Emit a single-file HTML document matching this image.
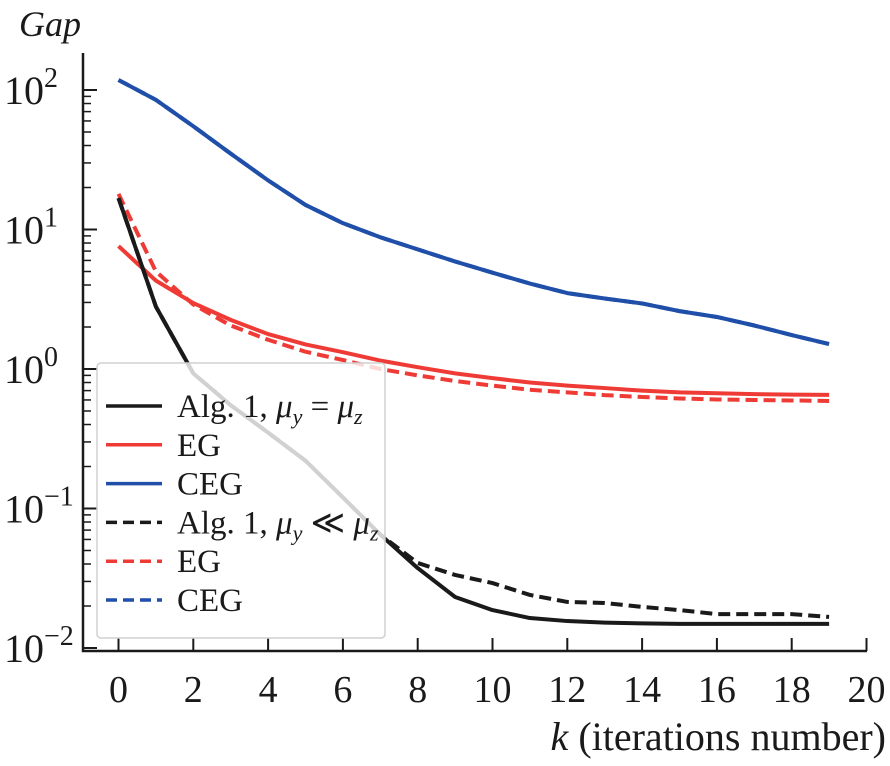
<!DOCTYPE html>
<html><head><meta charset="utf-8"><style>
html,body{margin:0;padding:0;background:#fff;}
svg, svg text{font-family:"Liberation Serif","Times New Roman",serif;}
</style></head><body>
<svg id="chart" width="890" height="761" viewBox="0 0 890 761">
<g id="marks"></g>
<g id="axes"></g>
<g id="legend"></g>
</svg>
<script>
const ks = [0,1,2,3,4,5,6,7,8,9,10,11,12,13,14,15,16,17,18,19];
const algEqual = [16.8,2.8,0.93,0.55,0.35,0.22,0.12,0.065,0.0374,0.0232,0.0187,0.0164,0.0156,0.0152,0.0150,0.0149,0.0149,0.0149,0.0149,0.0149];
const algLess = [16.8,2.8,0.93,0.55,0.35,0.22,0.12,0.065,0.0407,0.0334,0.0292,0.024,0.0214,0.021,0.0197,0.0187,0.0175,0.0175,0.0175,0.0167];
const egSolid = [7.6,4.3,2.97,2.25,1.78,1.5,1.32,1.15,1.03,0.93,0.86,0.8,0.76,0.73,0.7,0.68,0.67,0.66,0.655,0.652];
const egDashed = [18,5,2.9,2.05,1.62,1.33,1.16,1.0,0.9,0.82,0.76,0.71,0.68,0.65,0.63,0.615,0.605,0.6,0.595,0.59];
const cegSolid = [118,85,55,35,22.5,15,11.1,8.8,7.2,5.9,4.9,4.1,3.5,3.2,2.95,2.6,2.36,2.05,1.75,1.51];
const cegDashed = [118,85,55,35,22.5,15,11.1,8.8,7.2,5.9,4.9,4.1,3.5,3.2,2.95,2.6,2.36,2.05,1.75,1.51];
const xTicks = [0,2,4,6,8,10,12,14,16,18,20];
const yExps = [2,1,0,-1,-2];

const NS='http://www.w3.org/2000/svg';
const X0=118.5, XS=37.4, YB=648, DEC=139.5;
const xs=k=>X0+k*XS;
const ys=v=>YB-(Math.log10(v)+2)*DEC;
function mk(tag,attrs,parent){const e=document.createElementNS(NS,tag);for(const a in attrs)e.setAttribute(a,attrs[a]);parent.appendChild(e);return e;}
const marks=document.getElementById('marks'),axes=document.getElementById('axes'),leg=document.getElementById('legend');
const RED='#ef3b36',BLUE='#1f4fa8',BLK='#1a1a1a';
const FF='"Liberation Serif", serif';
const series=[
 {d:cegDashed,c:BLUE,dash:'12,6',n:'ceg-dashed-line'},
 {d:cegSolid,c:BLUE,dash:'',n:'ceg-solid-line'},
 {d:egSolid,c:RED,dash:'',n:'eg-solid-line'},
 {d:egDashed,c:RED,dash:'12,6',n:'eg-dashed-line'},
 {d:algLess,c:BLK,dash:'12,6',n:'alg1-less-line'},
 {d:algEqual,c:BLK,dash:'',n:'alg1-equal-line'}];
series.forEach(s=>{
 const p=mk('polyline',{points:s.d.map((v,i)=>xs(ks[i])+','+ys(v)).join(' '),fill:'none',stroke:s.c,'stroke-width':4,'stroke-dasharray':s.dash,'stroke-linejoin':'round'},marks);
 
 
});
let e=mk('line',{x1:83,y1:53,x2:83,y2:652,stroke:BLK,'stroke-width':2.5},axes);


e=mk('line',{x1:82,y1:651,x2:867,y2:651,stroke:BLK,'stroke-width':2.5},axes);


xTicks.forEach(t=>{
 const x=xs(t);
 mk('line',{x1:x,y1:651,x2:x,y2:638,stroke:BLK,'stroke-width':2},axes);
 const tx=mk('text',{x:x,y:702,'font-size':38,'font-family':FF,'text-anchor':'middle',fill:BLK},axes);
 tx.textContent=t;
 
 
});
yExps.forEach(ex=>{
 const y=ys(Math.pow(10,ex));
 mk('line',{x1:83,y1:y,x2:97,y2:y,stroke:BLK,'stroke-width':2},axes);
 if(ex<2){for(let m=2;m<=9;m++){const yy=ys(m*Math.pow(10,ex));mk('line',{x1:83,y1:yy,x2:91,y2:yy,stroke:BLK,'stroke-width':1.5},axes);}}
 const tx=mk('text',{x:4,y:y+14,'font-size':40,'font-family':FF,fill:BLK},axes);
 tx.innerHTML='10<tspan dy="-17" font-size="28">'+(ex<0?'\u2212'+(-ex):ex)+'</tspan>';
 
 
});
e=mk('text',{x:19,y:36,'font-size':36,'font-family':FF,'font-style':'italic',fill:BLK},axes);
e.textContent='Gap';


e=mk('text',{x:886,y:750,'font-size':40,'font-family':FF,'text-anchor':'end',fill:BLK},axes);
e.innerHTML='<tspan font-style="italic">k</tspan> (iterations number)';


e=mk('rect',{x:97,y:363,width:288,height:275,rx:4,fill:'rgba(255,255,255,0.8)',stroke:'#d0d0d0','stroke-width':1.5},leg);


const legItems=[
 {c:BLK,dash:'',t:'Alg. 1, <tspan font-style="italic">μ<tspan font-size="22" dy="7">y</tspan></tspan><tspan dy="-7"> = </tspan><tspan font-style="italic">μ<tspan font-size="22" dy="7">z</tspan></tspan>'},
 {c:RED,dash:'',t:'EG'},
 {c:BLUE,dash:'',t:'CEG'},
 {c:BLK,dash:'11,6',t:'Alg. 1, <tspan font-style="italic">μ<tspan font-size="22" dy="7">y</tspan></tspan><tspan dy="-7"> ≪ </tspan><tspan font-style="italic">μ<tspan font-size="22" dy="7">z</tspan></tspan>'},
 {c:RED,dash:'11,6',t:'EG'},
 {c:BLUE,dash:'11,6',t:'CEG'}];
legItems.forEach((it,i)=>{
 const y=406+i*38.8;
 const g=mk('g',{},leg);
 
 
 mk('line',{x1:106,y1:y,x2:162,y2:y,stroke:it.c,'stroke-width':3.5,'stroke-dasharray':it.dash},g);
 const t=mk('text',{x:177,y:y+11,'font-size':33,'font-family':FF,fill:BLK},g);
 t.innerHTML=it.t;
});
</script>
</body></html>
